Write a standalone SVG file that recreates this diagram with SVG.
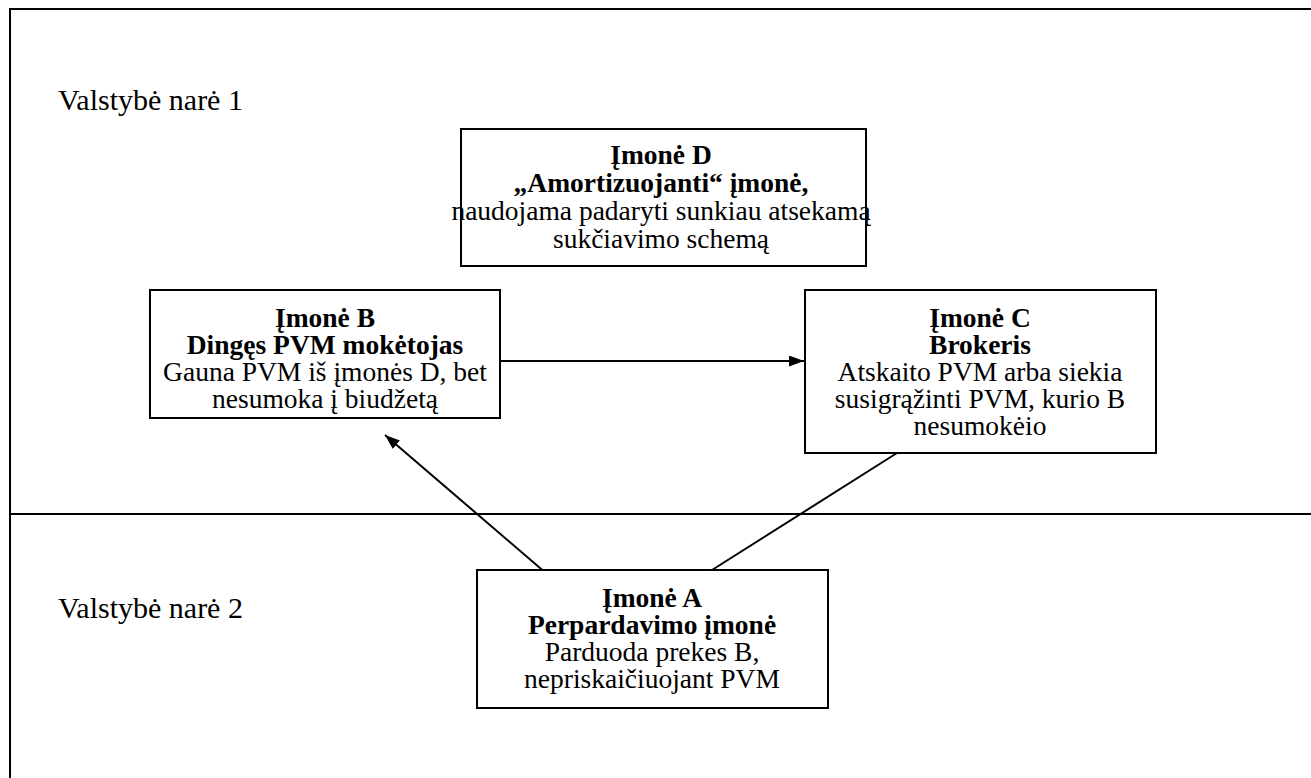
<svg xmlns="http://www.w3.org/2000/svg" width="1311" height="778" viewBox="0 0 1311 778">
  <defs>
    <marker id="arr" viewBox="0 0 10 10" refX="10" refY="5" markerWidth="15" markerHeight="11" markerUnits="userSpaceOnUse" orient="auto" preserveAspectRatio="none">
      <path d="M0,0 L10,5 L0,10 z" fill="#000"/>
    </marker>
    <style>
      text { font-family: "Liberation Serif", "Times New Roman", serif; fill: #000; }
      .t { font-size: 27.5px; text-anchor: middle; }
      .b { font-weight: bold; }
      .lbl { font-size: 30px; }
      .box { fill: #fff; stroke: #000; stroke-width: 2; }
      .frame { fill: none; stroke: #000; stroke-width: 2; }
      .conn { fill: none; stroke: #000; stroke-width: 2; }
    </style>
  </defs>
  <rect width="1311" height="778" fill="#fff"/>
  <g id="frame">
    <path class="frame" d="M10,778 L10,9 L1311,9"/>
    <line class="frame" x1="10" y1="514" x2="1311" y2="514"/>
    <text class="lbl" x="58" y="110">Valstybė narė 1</text>
    <text class="lbl" x="58" y="618">Valstybė narė 2</text>
  </g>
  <g id="connectors">
    <line class="conn" x1="500" y1="361" x2="804" y2="361" marker-end="url(#arr)"/>
    <line class="conn" x1="547" y1="574" x2="385" y2="435" marker-end="url(#arr)"/>
    <line class="conn" x1="897" y1="453" x2="712" y2="570"/>
  </g>
  <g id="nodeD">
    <rect class="box" x="461" y="129" width="405" height="137"/>
    <text class="t b" x="661" y="164">Įmonė D</text>
    <text class="t b" x="661" y="192">„Amortizuojanti“ įmonė,</text>
    <text class="t" x="661" y="220">naudojama padaryti sunkiau atsekamą</text>
    <text class="t" x="661" y="248">sukčiavimo schemą</text>
  </g>
  <g id="nodeB">
    <rect class="box" x="150" y="290" width="350" height="128"/>
    <text class="t b" x="325" y="327">Įmonė B</text>
    <text class="t b" x="325" y="354">Dingęs PVM mokėtojas</text>
    <text class="t" x="325" y="381">Gauna PVM iš įmonės D, bet</text>
    <text class="t" x="325" y="408">nesumoka į biudžetą</text>
  </g>
  <g id="nodeC">
    <rect class="box" x="805" y="290" width="351" height="163"/>
    <text class="t b" x="980" y="327">Įmonė C</text>
    <text class="t b" x="980" y="354">Brokeris</text>
    <text class="t" x="980" y="381">Atskaito PVM arba siekia</text>
    <text class="t" x="980" y="408">susigrąžinti PVM, kurio B</text>
    <text class="t" x="980" y="435">nesumokėio</text>
  </g>
  <g id="nodeA">
    <rect class="box" x="477" y="570" width="351" height="138"/>
    <text class="t b" x="652" y="607">Įmonė A</text>
    <text class="t b" x="652" y="634">Perpardavimo įmonė</text>
    <text class="t" x="652" y="661">Parduoda prekes B,</text>
    <text class="t" x="652" y="688">nepriskaičiuojant PVM</text>
  </g>
</svg>
